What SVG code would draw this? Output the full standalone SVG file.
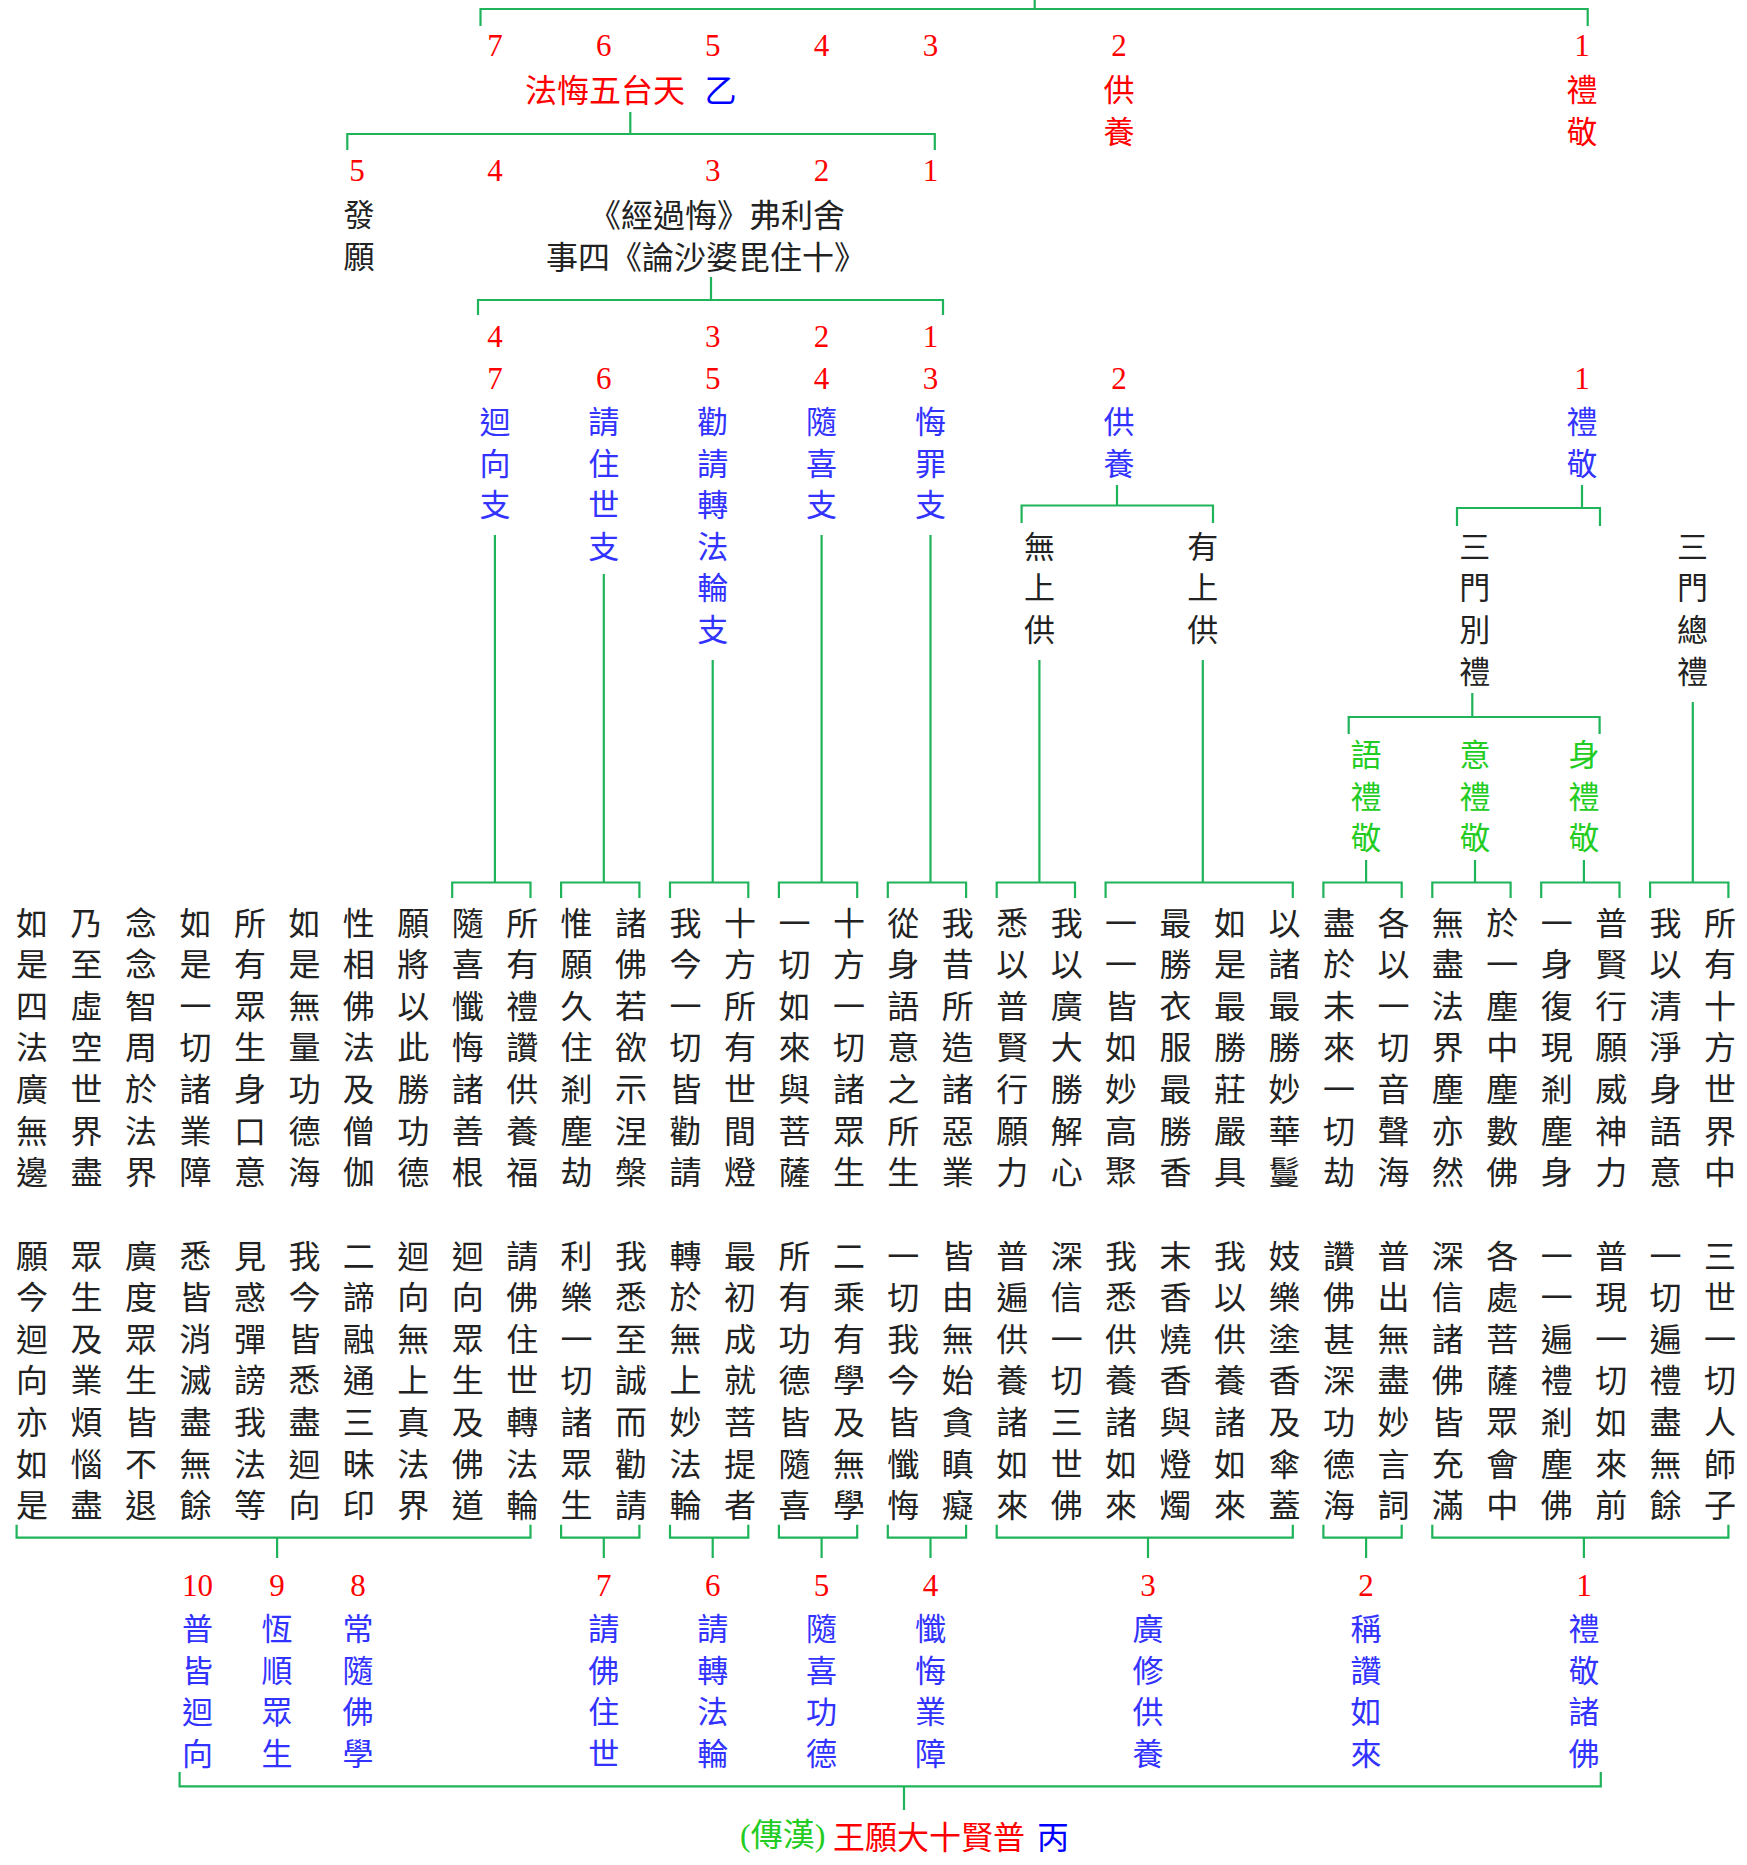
<svg xmlns="http://www.w3.org/2000/svg" width="1747" height="1865" viewBox="0 0 1747 1865">
<style>
.ln{stroke:#1FB35A;stroke-width:2.2;fill:none}
text{font-family:"Noto Sans CJK TC","Noto Sans CJK SC",sans-serif;dominant-baseline:central;text-anchor:middle}
.n{font-family:"Liberation Serif","Times New Roman",serif;font-size:31px;fill:#FF0000}
.g{font-size:32px;fill:#222}
.k{font-size:31px;fill:#222}
.b{font-size:31px;fill:#3333FF}
.r{font-size:31px;fill:#FF0000}
.gr{font-size:31px;fill:#22CC22}
</style>
<rect width="1747" height="1865" fill="#fff"/>
<g id="connectors">
<path class="ln" d="M480.5,26V9H1587.7V26M1034.7,0V9"/>
<path class="ln" d="M347.3,150V134H934.8V150M630.3,112V134"/>
<path class="ln" d="M478,315V300H943V315M711,277V300"/>
<path class="ln" d="M1021.6,523V505.5H1213V523M1117,485V505.5"/>
<path class="ln" d="M1457,526V508H1600V526M1582,485V508"/>
<path class="ln" d="M1348.7,734V717H1599.6V734M1472.3,693V717"/>
<path class="ln" d="M494.9,535V882.5M603.8,574V882.5M712.7,660V882.5M821.6,535V882.5M930.5,535V882.5M1039.4,660V882.5M1202.8,660V882.5M1366.1,860V882.5M1475,860V882.5M1583.9,860V882.5M1692.8,702V882.5"/>
<path class="ln" d="M452.2,898V882.5H530.5V898M561.1,898V882.5H639.4V898M670,898V882.5H748.3V898M778.9,898V882.5H857.2V898M887.8,898V882.5H966.1V898M996.7,898V882.5H1075V898M1105.6,898V882.5H1292.8V898M1323.4,898V882.5H1401.7V898M1432.3,898V882.5H1510.6V898M1541.2,898V882.5H1619.5V898M1650.1,898V882.5H1728.4V898"/>
<path class="ln" d="M16.6,1524.7V1537.7H530.5V1524.7M277.1,1537.7V1558M561.1,1524.7V1537.7H639.4V1524.7M603.8,1537.7V1558M670,1524.7V1537.7H748.3V1524.7M712.7,1537.7V1558M778.9,1524.7V1537.7H857.2V1524.7M821.6,1537.7V1558M887.8,1524.7V1537.7H966.1V1524.7M930.5,1537.7V1558M996.7,1524.7V1537.7H1292.8V1524.7M1148,1537.7V1558M1323.4,1524.7V1537.7H1401.7V1524.7M1366.1,1537.7V1558M1432.3,1524.7V1537.7H1728.4V1524.7M1583.9,1537.7V1558"/>
<path class="ln" d="M179.6,1772V1786.3H1600.8V1772M904,1786.3V1810"/>
</g>
<g id="n-top-nums">
<text class="n" x="494.9" y="45">7</text><text class="n" x="603.8" y="45">6</text><text class="n" x="712.7" y="45">5</text><text class="n" x="821.6" y="45">4</text><text class="n" x="930.5" y="45">3</text>
</g>
<g id="n-fahui">
<text class="r" x="525" y="87.5" style="text-anchor:start;font-size:32px">法悔五台天</text>
<text x="720.5" y="87.5" style="font-size:32px;fill:#0000FF">乙</text>
</g>
<g id="n-gongyang-top"><text class="n" x="1119" y="45">2</text><text class="r" x="1119 1119" y="87.5 129.5">供養</text></g>
<g id="n-lijing-top"><text class="n" x="1582" y="45">1</text><text class="r" x="1582 1582" y="87.5 129.5">禮敬</text></g>
<g id="n-fayuan"><text class="n" x="357" y="170">5</text><text class="k" x="359 359" y="212.5 254.5">發願</text></g>
<g id="n-row2-nums"><text class="n" x="494.9" y="170">4</text><text class="n" x="712.7" y="170">3</text><text class="n" x="821.6" y="170">2</text><text class="n" x="930.5" y="170">1</text></g>
<g id="n-sutra">
<text class="k" x="717" y="212.5" style="font-size:32px">《經過悔》弗利舍</text>
<text class="k" x="706" y="254.5" style="font-size:32px">事四《論沙婆毘住十》</text>
</g>
<g id="n-row3-nums"><text class="n" x="494.9" y="336.6">4</text><text class="n" x="712.7" y="336.6">3</text><text class="n" x="821.6" y="336.6">2</text><text class="n" x="930.5" y="336.6">1</text></g>
<g id="n-huixiang"><text class="n" x="494.9" y="378">7</text><text class="b" x="494.9 494.9 494.9" y="419.5 461.1 502.7">迴向支</text></g>
<g id="n-qingzhu"><text class="n" x="603.8" y="378">6</text><text class="b" x="603.8 603.8 603.8 603.8" y="419.5 461.1 502.7 544.3">請住世支</text></g>
<g id="n-quanqing"><text class="n" x="712.7" y="378">5</text><text class="b" x="712.7 712.7 712.7 712.7 712.7 712.7" y="419.5 461.1 502.7 544.3 585.9 627.5">勸請轉法輪支</text></g>
<g id="n-suixi"><text class="n" x="821.6" y="378">4</text><text class="b" x="821.6 821.6 821.6" y="419.5 461.1 502.7">隨喜支</text></g>
<g id="n-huizui"><text class="n" x="930.5" y="378">3</text><text class="b" x="930.5 930.5 930.5" y="419.5 461.1 502.7">悔罪支</text></g>
<g id="n-gongyang"><text class="n" x="1119" y="378">2</text><text class="b" x="1119 1119" y="419.5 461.1">供養</text></g>
<g id="n-lijing"><text class="n" x="1582" y="378">1</text><text class="b" x="1582 1582" y="419.5 461.1">禮敬</text></g>
<g id="n-wushang"><text class="k" x="1039.4 1039.4 1039.4" y="544.3 585.9 627.5">無上供</text></g>
<g id="n-youshang"><text class="k" x="1202.8 1202.8 1202.8" y="544.3 585.9 627.5">有上供</text></g>
<g id="n-biel"><text class="k" x="1474.7 1474.7 1474.7 1474.7" y="544.3 585.9 627.5 669.1">三門別禮</text></g>
<g id="n-zongli"><text class="k" x="1692.4 1692.4 1692.4 1692.4" y="544.3 585.9 627.5 669.1">三門總禮</text></g>
<g id="n-yu"><text class="gr" x="1366.1 1366.1 1366.1" y="752.5 794.1 835.7">語禮敬</text></g>
<g id="n-yi"><text class="gr" x="1475 1475 1475" y="752.5 794.1 835.7">意禮敬</text></g>
<g id="n-shen"><text class="gr" x="1583.9 1583.9 1583.9" y="752.5 794.1 835.7">身禮敬</text></g>
<g id="n-grid1-a">
<text class="g" x="32.1 32.1 32.1 32.1 32.1 32.1 32.1" y="920.5 962.1 1003.7 1045.3 1086.9 1128.5 1170.1">如是四法廣無邊</text>
<text class="g" x="86.6 86.6 86.6 86.6 86.6 86.6 86.6" y="920.5 962.1 1003.7 1045.3 1086.9 1128.5 1170.1">乃至虛空世界盡</text>
<text class="g" x="141 141 141 141 141 141 141" y="920.5 962.1 1003.7 1045.3 1086.9 1128.5 1170.1">念念智周於法界</text>
<text class="g" x="195.5 195.5 195.5 195.5 195.5 195.5 195.5" y="920.5 962.1 1003.7 1045.3 1086.9 1128.5 1170.1">如是一切諸業障</text>
<text class="g" x="249.9 249.9 249.9 249.9 249.9 249.9 249.9" y="920.5 962.1 1003.7 1045.3 1086.9 1128.5 1170.1">所有眾生身口意</text>
<text class="g" x="304.4 304.4 304.4 304.4 304.4 304.4 304.4" y="920.5 962.1 1003.7 1045.3 1086.9 1128.5 1170.1">如是無量功德海</text>
<text class="g" x="358.8 358.8 358.8 358.8 358.8 358.8 358.8" y="920.5 962.1 1003.7 1045.3 1086.9 1128.5 1170.1">性相佛法及僧伽</text>
<text class="g" x="413.3 413.3 413.3 413.3 413.3 413.3 413.3" y="920.5 962.1 1003.7 1045.3 1086.9 1128.5 1170.1">願將以此勝功德</text>
</g>
<g id="n-grid1-huixiang">
<text class="g" x="467.7 467.7 467.7 467.7 467.7 467.7 467.7" y="920.5 962.1 1003.7 1045.3 1086.9 1128.5 1170.1">隨喜懺悔諸善根</text>
<text class="g" x="522.2 522.2 522.2 522.2 522.2 522.2 522.2" y="920.5 962.1 1003.7 1045.3 1086.9 1128.5 1170.1">所有禮讚供養福</text>
</g>
<g id="n-grid1-qingzhu">
<text class="g" x="576.6 576.6 576.6 576.6 576.6 576.6 576.6" y="920.5 962.1 1003.7 1045.3 1086.9 1128.5 1170.1">惟願久住剎塵劫</text>
<text class="g" x="631.1 631.1 631.1 631.1 631.1 631.1 631.1" y="920.5 962.1 1003.7 1045.3 1086.9 1128.5 1170.1">諸佛若欲示涅槃</text>
</g>
<g id="n-grid1-quanqing">
<text class="g" x="685.5 685.5 685.5 685.5 685.5 685.5 685.5" y="920.5 962.1 1003.7 1045.3 1086.9 1128.5 1170.1">我今一切皆勸請</text>
<text class="g" x="740 740 740 740 740 740 740" y="920.5 962.1 1003.7 1045.3 1086.9 1128.5 1170.1">十方所有世間燈</text>
</g>
<g id="n-grid1-suixi">
<text class="g" x="794.4 794.4 794.4 794.4 794.4 794.4 794.4" y="920.5 962.1 1003.7 1045.3 1086.9 1128.5 1170.1">一切如來與菩薩</text>
<text class="g" x="848.9 848.9 848.9 848.9 848.9 848.9 848.9" y="920.5 962.1 1003.7 1045.3 1086.9 1128.5 1170.1">十方一切諸眾生</text>
</g>
<g id="n-grid1-huizui">
<text class="g" x="903.3 903.3 903.3 903.3 903.3 903.3 903.3" y="920.5 962.1 1003.7 1045.3 1086.9 1128.5 1170.1">從身語意之所生</text>
<text class="g" x="957.8 957.8 957.8 957.8 957.8 957.8 957.8" y="920.5 962.1 1003.7 1045.3 1086.9 1128.5 1170.1">我昔所造諸惡業</text>
</g>
<g id="n-grid1-wushang">
<text class="g" x="1012.2 1012.2 1012.2 1012.2 1012.2 1012.2 1012.2" y="920.5 962.1 1003.7 1045.3 1086.9 1128.5 1170.1">悉以普賢行願力</text>
<text class="g" x="1066.7 1066.7 1066.7 1066.7 1066.7 1066.7 1066.7" y="920.5 962.1 1003.7 1045.3 1086.9 1128.5 1170.1">我以廣大勝解心</text>
</g>
<g id="n-grid1-youshang">
<text class="g" x="1121.1 1121.1 1121.1 1121.1 1121.1 1121.1 1121.1" y="920.5 962.1 1003.7 1045.3 1086.9 1128.5 1170.1">一一皆如妙高聚</text>
<text class="g" x="1175.6 1175.6 1175.6 1175.6 1175.6 1175.6 1175.6" y="920.5 962.1 1003.7 1045.3 1086.9 1128.5 1170.1">最勝衣服最勝香</text>
<text class="g" x="1230 1230 1230 1230 1230 1230 1230" y="920.5 962.1 1003.7 1045.3 1086.9 1128.5 1170.1">如是最勝莊嚴具</text>
<text class="g" x="1284.5 1284.5 1284.5 1284.5 1284.5 1284.5 1284.5" y="920.5 962.1 1003.7 1045.3 1086.9 1128.5 1170.1">以諸最勝妙華鬘</text>
</g>
<g id="n-grid1-yu">
<text class="g" x="1338.9 1338.9 1338.9 1338.9 1338.9 1338.9 1338.9" y="920.5 962.1 1003.7 1045.3 1086.9 1128.5 1170.1">盡於未來一切劫</text>
<text class="g" x="1393.4 1393.4 1393.4 1393.4 1393.4 1393.4 1393.4" y="920.5 962.1 1003.7 1045.3 1086.9 1128.5 1170.1">各以一切音聲海</text>
</g>
<g id="n-grid1-yi">
<text class="g" x="1447.8 1447.8 1447.8 1447.8 1447.8 1447.8 1447.8" y="920.5 962.1 1003.7 1045.3 1086.9 1128.5 1170.1">無盡法界塵亦然</text>
<text class="g" x="1502.3 1502.3 1502.3 1502.3 1502.3 1502.3 1502.3" y="920.5 962.1 1003.7 1045.3 1086.9 1128.5 1170.1">於一塵中塵數佛</text>
</g>
<g id="n-grid1-shen">
<text class="g" x="1556.7 1556.7 1556.7 1556.7 1556.7 1556.7 1556.7" y="920.5 962.1 1003.7 1045.3 1086.9 1128.5 1170.1">一身復現剎塵身</text>
<text class="g" x="1611.2 1611.2 1611.2 1611.2 1611.2 1611.2 1611.2" y="920.5 962.1 1003.7 1045.3 1086.9 1128.5 1170.1">普賢行願威神力</text>
</g>
<g id="n-grid1-zong">
<text class="g" x="1665.6 1665.6 1665.6 1665.6 1665.6 1665.6 1665.6" y="920.5 962.1 1003.7 1045.3 1086.9 1128.5 1170.1">我以清淨身語意</text>
<text class="g" x="1720.1 1720.1 1720.1 1720.1 1720.1 1720.1 1720.1" y="920.5 962.1 1003.7 1045.3 1086.9 1128.5 1170.1">所有十方世界中</text>
</g>
<g id="n-grid2-huixiang">
<text class="g" x="32.1 32.1 32.1 32.1 32.1 32.1 32.1" y="1253.5 1295.1 1336.7 1378.3 1419.9 1461.5 1503.1">願今迴向亦如是</text>
<text class="g" x="86.6 86.6 86.6 86.6 86.6 86.6 86.6" y="1253.5 1295.1 1336.7 1378.3 1419.9 1461.5 1503.1">眾生及業煩惱盡</text>
<text class="g" x="141 141 141 141 141 141 141" y="1253.5 1295.1 1336.7 1378.3 1419.9 1461.5 1503.1">廣度眾生皆不退</text>
<text class="g" x="195.5 195.5 195.5 195.5 195.5 195.5 195.5" y="1253.5 1295.1 1336.7 1378.3 1419.9 1461.5 1503.1">悉皆消滅盡無餘</text>
<text class="g" x="249.9 249.9 249.9 249.9 249.9 249.9 249.9" y="1253.5 1295.1 1336.7 1378.3 1419.9 1461.5 1503.1">見惑彈謗我法等</text>
<text class="g" x="304.4 304.4 304.4 304.4 304.4 304.4 304.4" y="1253.5 1295.1 1336.7 1378.3 1419.9 1461.5 1503.1">我今皆悉盡迴向</text>
<text class="g" x="358.8 358.8 358.8 358.8 358.8 358.8 358.8" y="1253.5 1295.1 1336.7 1378.3 1419.9 1461.5 1503.1">二諦融通三昧印</text>
<text class="g" x="413.3 413.3 413.3 413.3 413.3 413.3 413.3" y="1253.5 1295.1 1336.7 1378.3 1419.9 1461.5 1503.1">迴向無上真法界</text>
<text class="g" x="467.7 467.7 467.7 467.7 467.7 467.7 467.7" y="1253.5 1295.1 1336.7 1378.3 1419.9 1461.5 1503.1">迴向眾生及佛道</text>
<text class="g" x="522.2 522.2 522.2 522.2 522.2 522.2 522.2" y="1253.5 1295.1 1336.7 1378.3 1419.9 1461.5 1503.1">請佛住世轉法輪</text>
</g>
<g id="n-grid2-qingfo">
<text class="g" x="576.6 576.6 576.6 576.6 576.6 576.6 576.6" y="1253.5 1295.1 1336.7 1378.3 1419.9 1461.5 1503.1">利樂一切諸眾生</text>
<text class="g" x="631.1 631.1 631.1 631.1 631.1 631.1 631.1" y="1253.5 1295.1 1336.7 1378.3 1419.9 1461.5 1503.1">我悉至誠而勸請</text>
</g>
<g id="n-grid2-zhuanfa">
<text class="g" x="685.5 685.5 685.5 685.5 685.5 685.5 685.5" y="1253.5 1295.1 1336.7 1378.3 1419.9 1461.5 1503.1">轉於無上妙法輪</text>
<text class="g" x="740 740 740 740 740 740 740" y="1253.5 1295.1 1336.7 1378.3 1419.9 1461.5 1503.1">最初成就菩提者</text>
</g>
<g id="n-grid2-suixi">
<text class="g" x="794.4 794.4 794.4 794.4 794.4 794.4 794.4" y="1253.5 1295.1 1336.7 1378.3 1419.9 1461.5 1503.1">所有功德皆隨喜</text>
<text class="g" x="848.9 848.9 848.9 848.9 848.9 848.9 848.9" y="1253.5 1295.1 1336.7 1378.3 1419.9 1461.5 1503.1">二乘有學及無學</text>
</g>
<g id="n-grid2-chanhui">
<text class="g" x="903.3 903.3 903.3 903.3 903.3 903.3 903.3" y="1253.5 1295.1 1336.7 1378.3 1419.9 1461.5 1503.1">一切我今皆懺悔</text>
<text class="g" x="957.8 957.8 957.8 957.8 957.8 957.8 957.8" y="1253.5 1295.1 1336.7 1378.3 1419.9 1461.5 1503.1">皆由無始貪瞋癡</text>
</g>
<g id="n-grid2-gongyang">
<text class="g" x="1012.2 1012.2 1012.2 1012.2 1012.2 1012.2 1012.2" y="1253.5 1295.1 1336.7 1378.3 1419.9 1461.5 1503.1">普遍供養諸如來</text>
<text class="g" x="1066.7 1066.7 1066.7 1066.7 1066.7 1066.7 1066.7" y="1253.5 1295.1 1336.7 1378.3 1419.9 1461.5 1503.1">深信一切三世佛</text>
<text class="g" x="1121.1 1121.1 1121.1 1121.1 1121.1 1121.1 1121.1" y="1253.5 1295.1 1336.7 1378.3 1419.9 1461.5 1503.1">我悉供養諸如來</text>
<text class="g" x="1175.6 1175.6 1175.6 1175.6 1175.6 1175.6 1175.6" y="1253.5 1295.1 1336.7 1378.3 1419.9 1461.5 1503.1">末香燒香與燈燭</text>
<text class="g" x="1230 1230 1230 1230 1230 1230 1230" y="1253.5 1295.1 1336.7 1378.3 1419.9 1461.5 1503.1">我以供養諸如來</text>
<text class="g" x="1284.5 1284.5 1284.5 1284.5 1284.5 1284.5 1284.5" y="1253.5 1295.1 1336.7 1378.3 1419.9 1461.5 1503.1">妓樂塗香及傘蓋</text>
</g>
<g id="n-grid2-chengzan">
<text class="g" x="1338.9 1338.9 1338.9 1338.9 1338.9 1338.9 1338.9" y="1253.5 1295.1 1336.7 1378.3 1419.9 1461.5 1503.1">讚佛甚深功德海</text>
<text class="g" x="1393.4 1393.4 1393.4 1393.4 1393.4 1393.4 1393.4" y="1253.5 1295.1 1336.7 1378.3 1419.9 1461.5 1503.1">普出無盡妙言詞</text>
</g>
<g id="n-grid2-lijing">
<text class="g" x="1447.8 1447.8 1447.8 1447.8 1447.8 1447.8 1447.8" y="1253.5 1295.1 1336.7 1378.3 1419.9 1461.5 1503.1">深信諸佛皆充滿</text>
<text class="g" x="1502.3 1502.3 1502.3 1502.3 1502.3 1502.3 1502.3" y="1253.5 1295.1 1336.7 1378.3 1419.9 1461.5 1503.1">各處菩薩眾會中</text>
<text class="g" x="1556.7 1556.7 1556.7 1556.7 1556.7 1556.7 1556.7" y="1253.5 1295.1 1336.7 1378.3 1419.9 1461.5 1503.1">一一遍禮剎塵佛</text>
<text class="g" x="1611.2 1611.2 1611.2 1611.2 1611.2 1611.2 1611.2" y="1253.5 1295.1 1336.7 1378.3 1419.9 1461.5 1503.1">普現一切如來前</text>
<text class="g" x="1665.6 1665.6 1665.6 1665.6 1665.6 1665.6 1665.6" y="1253.5 1295.1 1336.7 1378.3 1419.9 1461.5 1503.1">一切遍禮盡無餘</text>
<text class="g" x="1720.1 1720.1 1720.1 1720.1 1720.1 1720.1 1720.1" y="1253.5 1295.1 1336.7 1378.3 1419.9 1461.5 1503.1">三世一切人師子</text>
</g>
<g id="n-b10"><text class="n" x="197.4" y="1585">10</text><text class="b" x="197.4 197.4 197.4 197.4" y="1626.5 1668.1 1709.7 1751.3">普皆迴向</text></g>
<g id="n-b9"><text class="n" x="277" y="1585">9</text><text class="b" x="277 277 277 277" y="1626.5 1668.1 1709.7 1751.3">恆順眾生</text></g>
<g id="n-b8"><text class="n" x="358" y="1585">8</text><text class="b" x="358 358 358 358" y="1626.5 1668.1 1709.7 1751.3">常隨佛學</text></g>
<g id="n-b7"><text class="n" x="603.8" y="1585">7</text><text class="b" x="603.8 603.8 603.8 603.8" y="1626.5 1668.1 1709.7 1751.3">請佛住世</text></g>
<g id="n-b6"><text class="n" x="712.7" y="1585">6</text><text class="b" x="712.7 712.7 712.7 712.7" y="1626.5 1668.1 1709.7 1751.3">請轉法輪</text></g>
<g id="n-b5"><text class="n" x="821.6" y="1585">5</text><text class="b" x="821.6 821.6 821.6 821.6" y="1626.5 1668.1 1709.7 1751.3">隨喜功德</text></g>
<g id="n-b4"><text class="n" x="930.5" y="1585">4</text><text class="b" x="930.5 930.5 930.5 930.5" y="1626.5 1668.1 1709.7 1751.3">懺悔業障</text></g>
<g id="n-b3"><text class="n" x="1148" y="1585">3</text><text class="b" x="1148 1148 1148 1148" y="1626.5 1668.1 1709.7 1751.3">廣修供養</text></g>
<g id="n-b2"><text class="n" x="1366.1" y="1585">2</text><text class="b" x="1366.1 1366.1 1366.1 1366.1" y="1626.5 1668.1 1709.7 1751.3">稱讚如來</text></g>
<g id="n-b1"><text class="n" x="1583.9" y="1585">1</text><text class="b" x="1583.9 1583.9 1583.9 1583.9" y="1626.5 1668.1 1709.7 1751.3">禮敬諸佛</text></g>
<g id="n-title">
<text x="740" y="1835" style="text-anchor:start;font-size:32px;font-family:'Liberation Serif','Noto Sans CJK TC',serif;fill:#22CC22">(傳漢)</text>
<text x="833" y="1835" style="text-anchor:start;font-size:32px;fill:#FF0000">王願大十賢普</text>
<text x="1037" y="1835" style="text-anchor:start;font-size:32px;fill:#0000FF">丙</text>
</g>
</svg>
